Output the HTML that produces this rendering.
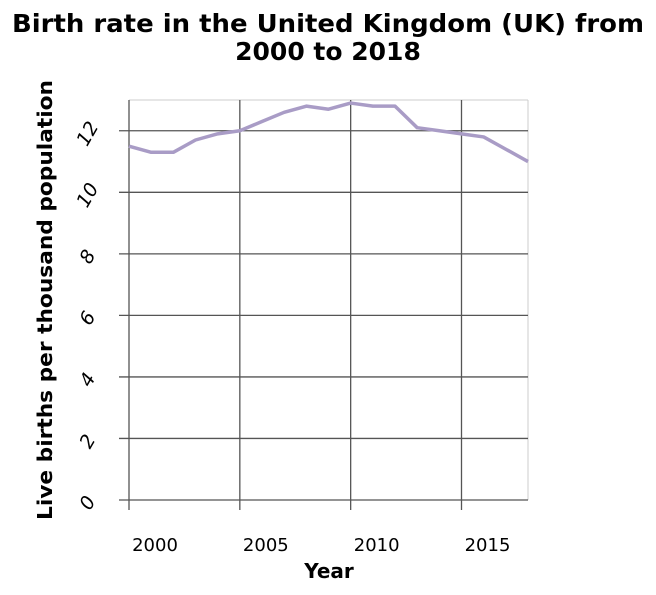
<!DOCTYPE html>
<html><head><meta charset="utf-8"><style>
body{margin:0;background:#fff;width:656px;height:590px;overflow:hidden}
svg{font-family:"DejaVu Sans",sans-serif}
</style></head><body>
<svg id="chart" width="656" height="590" xmlns="http://www.w3.org/2000/svg">
<text x="328" y="32" text-anchor="middle" font-size="25" font-weight="bold" textLength="632" lengthAdjust="spacingAndGlyphs">Birth rate in the United Kingdom (UK) from</text>
<text x="328" y="60" text-anchor="middle" font-size="25" font-weight="bold">2000 to 2018</text>
<text x="329" y="578" text-anchor="middle" font-size="20" font-weight="bold">Year</text>
<text transform="translate(52,300) rotate(-90)" text-anchor="middle" font-size="20" font-weight="bold" textLength="440" lengthAdjust="spacingAndGlyphs">Live births per thousand population</text>
<g id="grid"></g><g id="marks"></g>
</svg>
<script>
const years=[2000,2001,2002,2003,2004,2005,2006,2007,2008,2009,2010,2011,2012,2013,2014,2015,2016,2017,2018];
const rates=[11.5,11.3,11.3,11.7,11.9,12.0,12.3,12.6,12.8,12.7,12.9,12.8,12.8,12.1,12.0,11.9,11.8,11.4,11.0];
const xTicks=[2000,2005,2010,2015];
const yTicks=[0,2,4,6,8,10,12];
const NS="http://www.w3.org/2000/svg";
const L=129,R=528,T=100,B=500;
const xs=v=>L+(v-2000)/18*(R-L);
const ys=v=>B-v/13*(B-T);
function mk(tag,attrs,parent){const e=document.createElementNS(NS,tag);for(const k in attrs)e.setAttribute(k,attrs[k]);parent.appendChild(e);return e;}
const g=document.getElementById('grid');
mk('line',{x1:L,x2:R,y1:T,y2:T,stroke:'#ccc','stroke-width':1},g);
mk('line',{x1:R,x2:R,y1:T,y2:B,stroke:'#ccc','stroke-width':1},g);
yTicks.forEach(t=>{
 const l=mk('line',{x1:L-10,x2:R,y1:ys(t),y2:ys(t),stroke:'#555','stroke-width':1.3},g);
 
 
 const tx=mk('text',{x:0,y:0,'font-size':19,'font-style':'italic','text-anchor':'middle',transform:`translate(${L-36},${ys(t)+6}) rotate(-60)`},g);
 tx.textContent=t;
 
 
});
xTicks.forEach(t=>{
 const l=mk('line',{x1:xs(t),x2:xs(t),y1:T,y2:B+10,stroke:'#555','stroke-width':1.3},g);
 
 
 const tx=mk('text',{x:xs(t)+26,y:551,'font-size':18,'text-anchor':'middle'},g);
 tx.textContent=t;
 
 
});
const m=document.getElementById('marks');
const p=mk('polyline',{points:years.map((y,i)=>xs(y)+','+ys(rates[i])).join(' '),fill:'none',stroke:'#a99cc6','stroke-width':3.5,'stroke-linejoin':'round'},m);


</script>
</body></html>
